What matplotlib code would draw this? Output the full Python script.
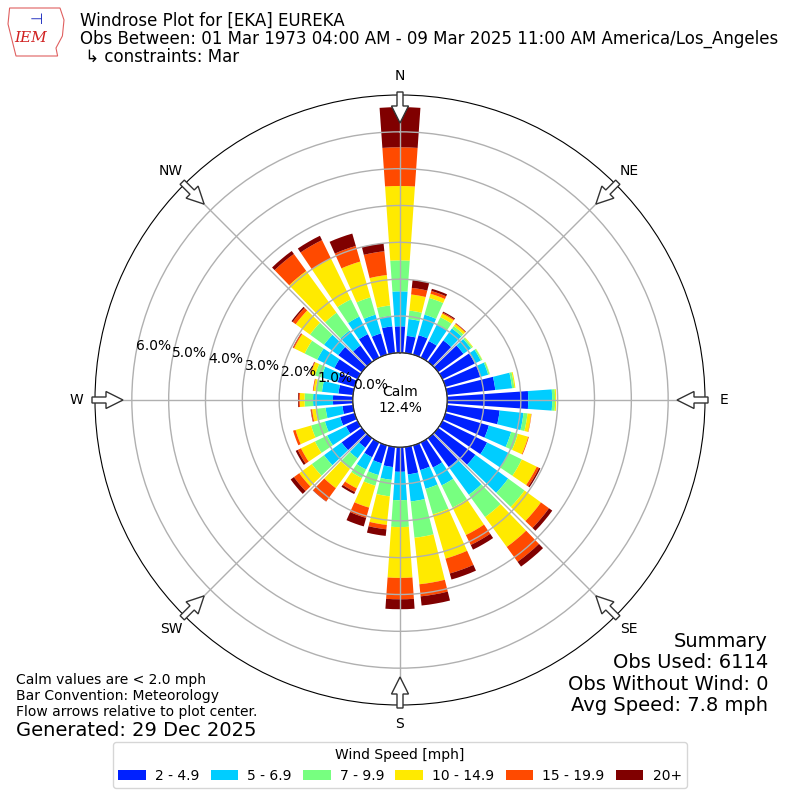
import numpy as np
import matplotlib
matplotlib.use("Agg")
import matplotlib.pyplot as plt
from matplotlib.patches import Circle, FancyArrow, Polygon

# direction bins (degrees, 10 degree bins)
directions = np.arange(0, 360, 10)
speed_labels = ["2 - 4.9", "5 - 6.9", "7 - 9.9", "10 - 14.9", "15 - 19.9", "20+"]

# cumulative frequency (%) at the top of each speed bin, per direction
top_2 = [0.72, 0.47, 0.55, 0.50, 0.72, 0.85, 0.98, 0.99, 1.32, 2.20, 1.44, 1.23,
         1.35, 1.25, 0.97, 0.76, 0.70, 0.75, 0.67, 0.55, 0.51, 0.45, 0.32, 0.68,
         0.35, 0.41, 0.29, 0.54, 0.40, 0.48, 0.70, 0.79, 0.55, 0.71, 0.60, 0.73]
top_5 = [1.67, 0.93, 1.13, 1.00, 1.12, 1.10, 1.16, 1.21, 1.78, 2.85, 2.09, 1.86,
         2.00, 2.35, 1.90, 1.30, 1.23, 1.49, 1.44, 0.90, 0.84, 0.82, 0.68, 1.27,
         0.92, 0.84, 0.75, 1.08, 0.85, 0.94, 1.22, 1.27, 1.05, 1.24, 1.13, 1.02]
top_7 = [2.51, 1.16, 1.60, 1.22, 1.20, 1.15, 1.20, 1.25, 1.84, 2.93, 2.20, 2.05,
         2.40, 2.90, 2.65, 1.97, 1.95, 2.48, 2.17, 1.35, 1.14, 1.08, 1.03, 1.68,
         1.29, 1.23, 1.02, 1.31, 1.02, 1.12, 1.60, 1.74, 1.65, 1.76, 1.62, 1.30]
top_10 = [4.53, 1.60, 1.72, 1.33, 1.27, 1.17, 1.21, 1.26, 1.87, 2.96, 2.30, 2.34,
          2.85, 3.45, 3.65, 2.80, 3.20, 3.75, 3.55, 2.13, 1.76, 1.39, 1.68, 2.10,
          1.71, 1.67, 1.12, 1.44, 1.08, 1.24, 1.92, 2.22, 3.05, 3.00, 2.63, 2.13]
top_15 = [5.58, 1.78, 1.80, 1.36, 1.29, 1.17, 1.21, 1.26, 1.87, 2.96, 2.31, 2.36,
          2.92, 3.72, 4.15, 3.10, 3.62, 4.08, 4.13, 2.25, 2.05, 1.50, 2.12, 2.28,
          1.81, 1.74, 1.15, 1.47, 1.10, 1.26, 1.95, 2.32, 3.62, 3.55, 3.07, 2.78]
top_20 = [6.67, 2.00, 1.86, 1.39, 1.30, 1.17, 1.21, 1.26, 1.87, 2.96, 2.31, 2.36,
          2.96, 3.83, 4.31, 3.24, 3.79, 4.33, 4.40, 2.43, 2.29, 1.56, 2.13, 2.39,
          1.87, 1.74, 1.16, 1.49, 1.10, 1.27, 1.96, 2.36, 3.72, 3.68, 3.42, 3.00]

calm_pct = 12.4
rticks = [0, 1, 2, 3, 4, 5, 6]
compass = ["N", "NE", "E", "SE", "S", "SW", "W", "NW"]

colors = plt.get_cmap("jet")(np.linspace(0.16, 1.0, 6))

fig = plt.figure(figsize=(8, 8), dpi=100)
ax = fig.add_axes([0.11875, 0.11875, 0.7625, 0.7625], projection="polar")
ax.set_theta_zero_location("N")
ax.set_theta_direction(-1)
ax.set_ylim(0, 7)
ax.set_rorigin(-1.28)
ax.set_axisbelow(False)

theta = np.deg2rad(directions)
bottom = np.zeros(len(directions))
for label, color, top in zip(speed_labels, colors,
                             [top_2, top_5, top_7, top_10, top_15, top_20]):
    top = np.asarray(top)
    ax.bar(theta, top - bottom, width=np.deg2rad(8), bottom=bottom,
           color=color, label=label, linewidth=0, zorder=1)
    bottom = top

ax.set_yticks(rticks)
ax.set_yticklabels(["%.1f%%" % v for v in rticks], fontsize=10)
ax.set_rlabel_position(280)
ax.set_xticks(np.deg2rad(np.arange(0, 360, 45)))
ax.set_xticklabels(compass, fontsize=10)
ax.tick_params(axis="x", pad=3)
ax.grid(True, color="#b0b0b0", lw=1)

ax.add_patch(Circle((0.5, 0.5), 47 / 610., transform=ax.transAxes,
                    facecolor="none", edgecolor="black", lw=1, zorder=3))
ax.text(0.5, 0.5, "Calm\n%.1f%%" % calm_pct, transform=ax.transAxes,
        ha="center", va="center", fontsize=10, zorder=4)

# flow arrows at the edge, pointing to the plot center
for i in range(8):
    a = np.deg2rad(i * 45)
    sx, sy = np.sin(a), np.cos(a)
    x0 = 0.5 + 308 / 800. * sx
    y0 = 0.5 + 308 / 800. * sy
    fig.patches.append(FancyArrow(x0, y0, -31 / 800. * sx, -31 / 800. * sy,
                                  width=6 / 800., head_width=17 / 800.,
                                  head_length=17 / 800., length_includes_head=True,
                                  transform=fig.transFigure, facecolor="white",
                                  edgecolor="#333333", lw=1, zorder=5))

# titles
fig.text(0.1, 0.985, "Windrose Plot for [EKA] EUREKA\n"
         "Obs Between: 01 Mar 1973 04:00 AM - 09 Mar 2025 11:00 AM America/Los_Angeles\n"
         " \u21b3 constraints: Mar", ha="left", va="top", fontsize=12,
         linespacing=0.97)

# logo stand-in
fig.patches.append(Polygon([(0.012, 0.99), (0.075, 0.99), (0.08, 0.975), (0.078, 0.955),
                            (0.07, 0.94), (0.072, 0.93), (0.02, 0.93), (0.015, 0.95),
                            (0.01, 0.97)], closed=True, transform=fig.transFigure,
                           facecolor="none", edgecolor="#e06060", lw=0.8))
fig.text(0.038, 0.952, "IEM", color="#d02020", fontsize=11, family="DejaVu Serif",
         style="italic", ha="center", va="center")
fig.text(0.045, 0.975, "\u22a3", color="#2030c0", fontsize=11, ha="center", va="center")

fig.text(0.02, 0.13, "Calm values are < 2.0 mph\nBar Convention: Meteorology\n"
         "Flow arrows relative to plot center.", ha="left", va="center", fontsize=10)
fig.text(0.02, 0.087, "Generated: 29 Dec 2025", ha="left", va="center", fontsize=14)

fig.text(0.96, 0.158, "Summary\nObs Used: 6114\nObs Without Wind: 0\nAvg Speed: 7.8 mph",
         ha="right", va="center", fontsize=14, linespacing=1.15)

handles, labels = ax.get_legend_handles_labels()
fig.legend(handles, labels, loc="lower center", bbox_to_anchor=(0.5, 0.006),
           ncol=6, title="Wind Speed [mph]", fontsize=10, title_fontsize=10,
           columnspacing=0.8, handletextpad=0.65)

fig.savefig("out.png", dpi=100)
